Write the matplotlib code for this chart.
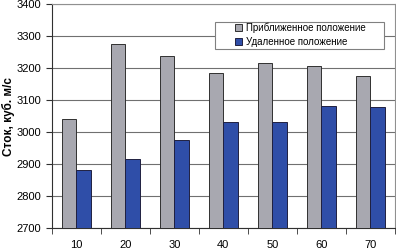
import numpy as np
import matplotlib
matplotlib.use('Agg')
import matplotlib.pyplot as plt
from matplotlib.patches import Rectangle

categories = ['10', '20', '30', '40', '50', '60', '70']
near = [3040, 3275, 3238, 3185, 3215, 3205, 3175]
far = [2880, 2915, 2975, 3030, 3030, 3082, 3077]

plt.rcParams['font.family'] = ['Liberation Sans', 'DejaVu Sans']

fig = plt.figure(figsize=(3.96, 2.5), dpi=100)
ax = fig.add_axes([0.131, 0.088, 0.866, 0.896])

x = np.arange(len(categories))
w = 0.29
ax.bar(x - w/2, near, w, color='#a8a8b0', edgecolor='#303030', linewidth=0.7,
       label='Приближенное положение', zorder=3)
ax.bar(x + w/2, far, w, color='#2f4ea8', edgecolor='#202040', linewidth=0.7,
       label='Удаленное положение', zorder=3)

ax.set_xlim(-0.5, len(categories) - 0.5)
ax.set_ylim(2700, 3400)
ax.set_yticks(np.arange(2700, 3401, 100))
ax.set_xticks(x)
ax.set_xticklabels(categories)
ax.set_xticks(np.arange(-0.5, len(categories)), minor=True)
ax.tick_params(axis='x', which='major', length=0, labelsize=8, pad=9)
ax.tick_params(axis='x', which='minor', length=4, direction='out', color='#303030')
ax.tick_params(axis='y', length=4, direction='out', labelsize=8, color='#303030', pad=3.5)
ax.grid(axis='y', color='#707070', linewidth=0.8, zorder=0)

for s in ['top', 'right']:
    ax.spines[s].set_color('#909090')
for s in ['left', 'bottom']:
    ax.spines[s].set_color('#303030')

ax.set_ylabel('Сток, куб. м/с', fontsize=8.5, fontweight='bold')
ax.yaxis.set_label_coords(-0.108, 0.5)

# legend box (white, grey border) drawn over the grid
ax.add_patch(Rectangle((0.475, 0.799), 0.493, 0.121, transform=ax.transAxes,
                       facecolor='white', edgecolor='#808080', linewidth=0.8,
                       zorder=4))
leg = ax.legend(loc='upper left', bbox_to_anchor=(0.535, 0.918), fontsize=7,
                frameon=False, handlelength=0.7, handleheight=0.7,
                handletextpad=0.4, borderpad=0, labelspacing=0.42, borderaxespad=0)
leg.set_zorder(5)

fig.savefig('out.png', dpi=100)
